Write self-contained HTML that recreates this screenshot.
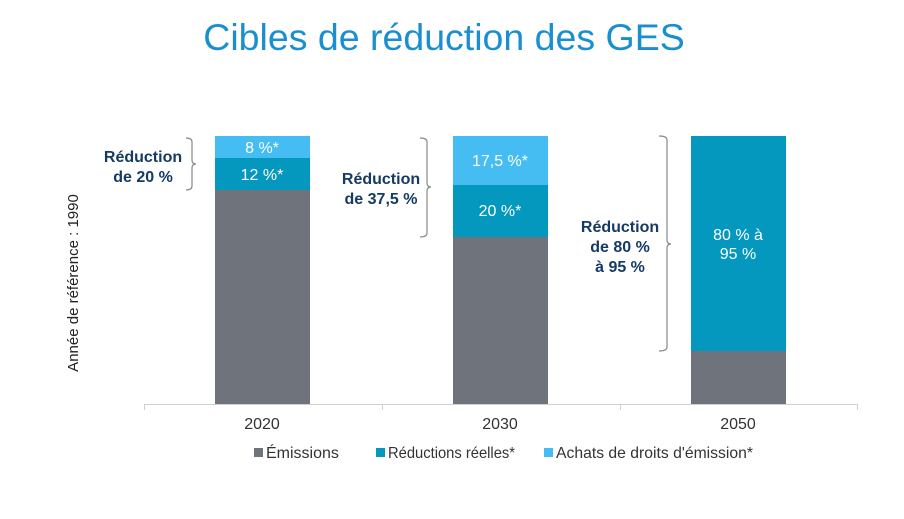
<!DOCTYPE html>
<html><head><meta charset="utf-8"><style>
body{margin:0;background:#fff;}
svg{display:block;font-family:"Liberation Sans",Arial,sans-serif;}
</style></head><body>
<svg width="904" height="519" viewBox="0 0 904 519">
<text x="444" y="50" text-anchor="middle" font-size="37.5" fill="#1a8fd0">Cibles de réduction des GES</text>
<text transform="translate(78,283) rotate(-90)" text-anchor="middle" font-size="15" fill="#222">Année de référence : 1990</text>
<rect x="215" y="136" width="95" height="22" fill="#45bdf2"/>
<rect x="215" y="158" width="95" height="32" fill="#0598bf"/>
<rect x="215" y="190" width="95" height="214" fill="#6f737b"/>
<rect x="453" y="136" width="95" height="49" fill="#45bdf2"/>
<rect x="453" y="185" width="95" height="52" fill="#0598bf"/>
<rect x="453" y="237" width="95" height="167" fill="#6f737b"/>
<rect x="691" y="136" width="95" height="215" fill="#0598bf"/>
<rect x="691" y="351" width="95" height="53" fill="#6f737b"/>
<g fill="#fff" font-size="16" text-anchor="middle">
<text x="262" y="153">8 %*</text>
<text x="262" y="180">12 %*</text>
<text x="500" y="166">17,5 %*</text>
<text x="500" y="216">20 %*</text>
<text x="738" y="240">80 % à</text>
<text x="738" y="259">95 %</text>
</g>
<g stroke="#d0d0d0" stroke-width="1">
<line x1="144" y1="404.5" x2="857" y2="404.5"/>
<line x1="144.5" y1="404" x2="144.5" y2="410"/>
<line x1="382.5" y1="404" x2="382.5" y2="410"/>
<line x1="620.5" y1="404" x2="620.5" y2="410"/>
<line x1="857.5" y1="404" x2="857.5" y2="410"/>
</g>
<g font-size="16" fill="#333" text-anchor="middle">
<text x="262" y="429">2020</text>
<text x="500" y="429">2030</text>
<text x="738" y="429">2050</text>
</g>
<g font-size="16" fill="#333">
<rect x="254" y="448" width="9" height="9" fill="#6f737b"/><text x="266" y="458">Émissions</text>
<rect x="376" y="448" width="9" height="9" fill="#0598bf"/><text x="388" y="458" textLength="127" lengthAdjust="spacingAndGlyphs">Réductions réelles*</text>
<rect x="544" y="448" width="9" height="9" fill="#45bdf2"/><text x="556" y="458" textLength="197" lengthAdjust="spacingAndGlyphs">Achats de droits d'émission*</text>
</g>
<g fill="none" stroke="#888" stroke-width="1.2">
<path d="M186 138 Q192 138 192 142 L192 160 Q192 164 196 164 Q192 164 192 168 L192 186 Q192 190 186 190"/>
<path d="M420 138 Q427 138 427 142 L427 183 Q427 187 431 187 Q427 187 427 191 L427 233 Q427 237 420 237"/>
<path d="M659 136 Q667 136 667 140 L667 240 Q667 244 671 244 Q667 244 667 248 L667 347 Q667 351 659 351"/>
</g>
<g font-size="16" font-weight="bold" fill="#153a66" text-anchor="middle">
<text x="143" y="162">Réduction</text>
<text x="143" y="182">de 20 %</text>
<text x="381" y="184">Réduction</text>
<text x="381" y="204">de 37,5 %</text>
<text x="620" y="232">Réduction</text>
<text x="620" y="252">de 80 %</text>
<text x="620" y="272">à 95 %</text>
</g>
</svg>
</body></html>
